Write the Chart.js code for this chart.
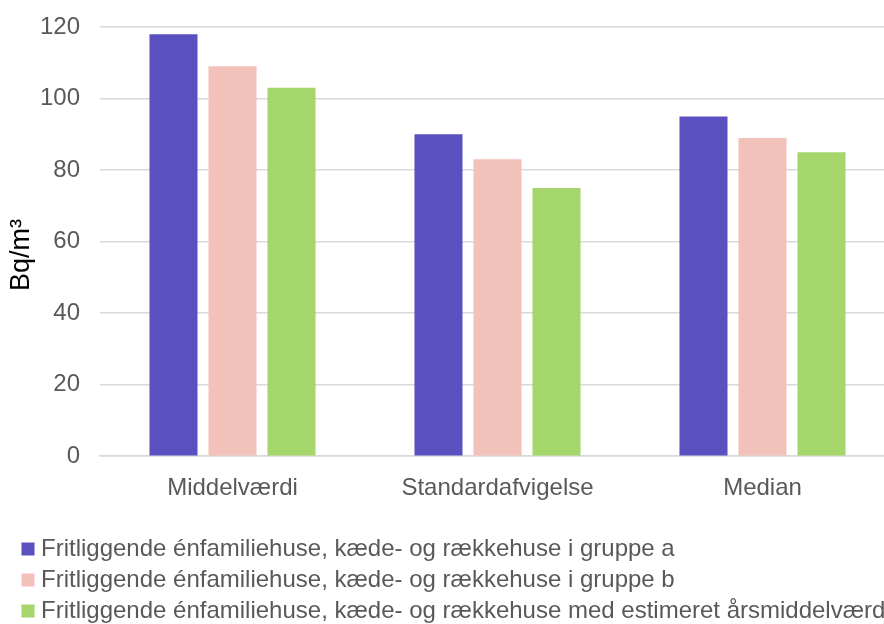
<!DOCTYPE html>
<html>
<head>
<meta charset="utf-8">
<script src="https://cdn.jsdelivr.net/npm/chart.js@4"></script>
<style>
  html, body { margin: 0; padding: 0; background: #fff; overflow: hidden; }
  #wrap { width: 896px; height: 633px; }
</style>
</head>
<body>
<div id="wrap"><canvas id="radonChart"></canvas></div>
<script>
// Radon i boliger - bar chart

const categories = ['Middelværdi', 'Standardafvigelse', 'Median'];
const seriesNames = [
  'Fritliggende énfamiliehuse, kæde- og rækkehuse i gruppe a',
  'Fritliggende énfamiliehuse, kæde- og rækkehuse i gruppe b',
  'Fritliggende énfamiliehuse, kæde- og rækkehuse med estimeret årsmiddelværdi'
];
const groupA = [118, 90, 95];
const groupB = [109, 83, 89];
const estimated = [103, 75, 85];
const yTicks = [0, 20, 40, 60, 80, 100, 120];

const colors = ['#5B50BF', '#F2C1BA', '#A5D66B'];
const textColor = '#595959';
const gridColor = '#D9D9D9';
const fontFamily = '"Liberation Sans", Arial, sans-serif';

// nudge the legend to the right so the boxes line up with the original
const legendShift = {
  id: 'legendShift',
  afterLayout(chart) {
    chart.legend.left += 17;
  }
};

const ctx = document.getElementById('radonChart').getContext('2d');

new Chart(ctx, {
  type: 'bar',
  data: {
    labels: categories,
    datasets: [groupA, groupB, estimated].map((values, i) => ({
      label: seriesNames[i],
      data: values,
      backgroundColor: colors[i],
      borderWidth: 0,
      categoryPercentage: 0.668,
      barPercentage: 0.814
    }))
  },
  options: {
    responsive: true,
    maintainAspectRatio: false,
    animation: false,
    devicePixelRatio: 1,
    layout: {
      padding: { top: 27, left: 3, right: 1, bottom: 0 }
    },
    plugins: {
      tooltip: { enabled: false },
      legend: {
        position: 'bottom',
        align: 'start',
        labels: {
          color: textColor,
          font: { family: fontFamily, size: 24 },
          usePointStyle: true,
          pointStyle: 'rect',
          boxWidth: 2,
          boxHeight: 13,
          padding: 7
        }
      }
    },
    scales: {
      x: {
        grid: { display: false },
        border: { color: gridColor, width: 1.5 },
        ticks: {
          color: textColor,
          font: { family: fontFamily, size: 24 },
          padding: 10
        },
        afterFit: function (scale) {
          scale.height += 17;
        }
      },
      y: {
        min: 0,
        max: 120,
        afterBuildTicks: function (scale) {
          scale.ticks = yTicks.map(v => ({ value: v }));
        },
        afterFit: function (scale) {
          scale.width = 97;
          // let layout.padding decide the top of the plot
          scale.paddingTop = 0;
          scale.paddingBottom = 0;
        },
        grid: { color: gridColor, lineWidth: 1.5, drawTicks: false },
        border: { display: false },
        ticks: {
          color: textColor,
          font: { family: fontFamily, size: 24 },
          padding: 20
        },
        title: {
          display: true,
          // trailing en spaces push the visible text a little lower, as in the original
          text: 'Bq/m³\u2002\u2002',
          color: '#000000',
          font: { family: fontFamily, size: 27 },
          padding: { top: 2, bottom: 2 }
        }
      }
    }
  },
  plugins: [legendShift]
});
</script>
</body>
</html>
